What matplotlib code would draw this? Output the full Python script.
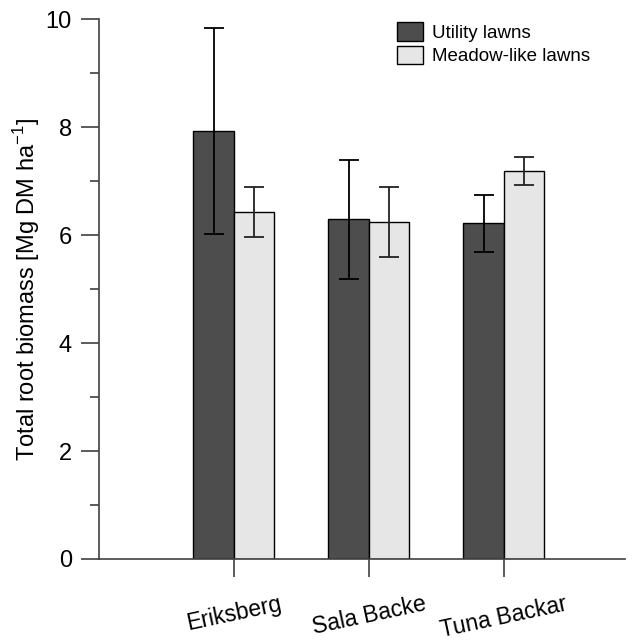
import numpy as np
import matplotlib
matplotlib.use("Agg")
import matplotlib.pyplot as plt
from matplotlib.ticker import MultipleLocator

plt.rcParams["font.family"] = ["Liberation Sans", "DejaVu Sans"]
plt.rcParams["mathtext.fontset"] = "custom"
plt.rcParams["mathtext.rm"] = "Liberation Sans"

# Data
sites = ["Eriksberg", "Sala Backe", "Tuna Backar"]
utility = [7.93, 6.29, 6.22]
utility_err = [1.91, 1.10, 0.53]
meadow = [6.43, 6.24, 7.19]
meadow_err = [0.46, 0.65, 0.26]

axis_col = "#404040"

fig = plt.figure(figsize=(6.41, 6.41), dpi=100)
ax = fig.add_axes([0.1545, 0.128, 0.821, 0.842])

x = np.arange(len(sites))
w = 0.3

ax.bar(x - w/2, utility, w, color="#4d4d4d", edgecolor="black", linewidth=1,
       label="Utility lawns", zorder=2)
ax.bar(x + w/2, meadow, w, color="#e6e6e6", edgecolor="black", linewidth=1,
       label="Meadow-like lawns", zorder=2)
ax.errorbar(x - w/2, utility, yerr=utility_err, fmt="none", ecolor="black",
            elinewidth=1.3, capsize=7, capthick=1.3, zorder=3)
ax.errorbar(x + w/2, meadow, yerr=meadow_err, fmt="none", ecolor="#222222",
            elinewidth=1.3, capsize=7, capthick=1.3, zorder=3)

ax.set_xlim(-1, 2.9)
ax.set_ylim(0, 10)
ax.yaxis.set_major_locator(MultipleLocator(2))
ax.yaxis.set_minor_locator(MultipleLocator(1))
ax.set_xticks(x)
ax.set_xticklabels(sites, rotation=12, fontsize=16.5)
ax.tick_params(axis="y", labelsize=17)

for s in ["top", "right"]:
    ax.spines[s].set_visible(False)
for s in ["left", "bottom"]:
    ax.spines[s].set_color(axis_col)
    ax.spines[s].set_linewidth(1.2)
ax.tick_params(which="major", length=13, width=1.2, color=axis_col, pad=6.5)
ax.tick_params(which="minor", length=6.5, width=1.2, color=axis_col)
ax.tick_params(axis="x", pad=11)

ax.set_ylabel("Total root biomass [Mg DM ha$^{-1}$]", fontsize=17, labelpad=3)

ax.legend(loc="upper left", bbox_to_anchor=(0.619, 0.9657),
          bbox_transform=fig.transFigure, frameon=False, fontsize=13.5,
          handlelength=1.39, handleheight=1.17, handletextpad=0.5,
          labelspacing=0.2, borderaxespad=0, borderpad=0)

plt.savefig("out.png", dpi=100)
print("Saved: out.png")
